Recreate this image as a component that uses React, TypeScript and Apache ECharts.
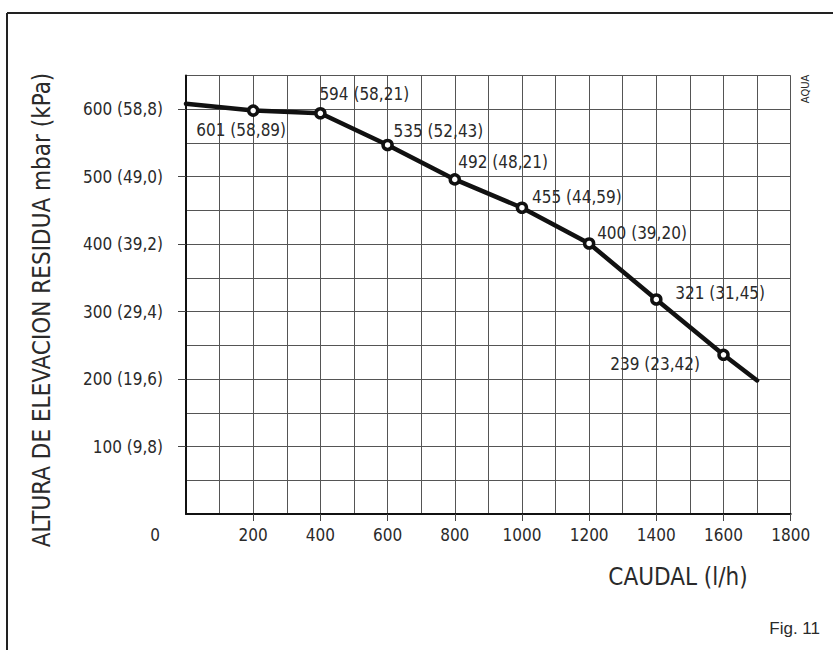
import React, { useEffect, useRef } from "react";
import * as echarts from "echarts";

// Data
const flow = [0, 200, 400, 600, 800, 1000, 1200, 1400, 1600, 1700];
const pressure = [608, 598, 594, 547, 496, 454, 401, 318, 236, 198];
const pointLabels = [
  "",
  "601 (58,89)",
  "594 (58,21)",
  "535 (52,43)",
  "492 (48,21)",
  "455 (44,59)",
  "400 (39,20)",
  "321 (31,45)",
  "239 (23,42)",
  "",
];
const yTickValues = [100, 200, 300, 400, 500, 600];
const yTickTexts = ["100 (9,8)", "200 (19,6)", "300 (29,4)", "400 (39,2)", "500 (49,0)", "600 (58,8)"];
const xTickValues = [200, 400, 600, 800, 1000, 1200, 1400, 1600, 1800];
const yTitle = "ALTURA DE ELEVACION RESIDUA mbar (kPa)";
const xTitle = "CAUDAL (l/h)";
const figTitle = "Fig. 11";
const brandText = "AQUA";
const originText = "0";

// Label placement (style only): [align, dx, dy]
const labelPlacement: [string, number, number][] = [
  ["center", 0, 0],
  ["center", -12, 19],
  ["left", -1, -19],
  ["left", 6, -14],
  ["left", 3.5, -17.5],
  ["left", 10, -10.5],
  ["left", 8, -10],
  ["left", 19, -6],
  ["right", -23.5, 9],
  ["center", 0, 0],
];

const FONT = "'DejaVu Sans Condensed', 'Liberation Sans Narrow', 'DejaVu Sans', sans-serif";
const TEXT = "#2a2a2a";
const GRIDC = "#555";

export default function App() {
  const ref = useRef<HTMLDivElement>(null);
  useEffect(() => {
    if (!ref.current) return;
    const chart = echarts.init(ref.current, null, { renderer: "svg" });
    const data = flow.map((x, i) => {
      const [align, dx, dy] = labelPlacement[i];
      return {
        value: [x, pressure[i]],
        symbol: pointLabels[i] ? "circle" : "none",
        label: {
          show: !!pointLabels[i],
          formatter: pointLabels[i],
          position: "inside",
          align,
          verticalAlign: "middle",
          offset: [dx, dy],
        },
      };
    });
    const hiddenAxisBase = {
      type: "value",
      axisLine: { show: false },
      axisTick: { show: false },
      axisLabel: { show: false },
      splitLine: { show: true, lineStyle: { color: GRIDC, width: 1 } },
      z: 0,
    };
    chart.setOption({
      animation: false,
      backgroundColor: "#fff",
      grid: { left: 186, top: 75.5, width: 604.7, height: 438.5, containLabel: false },
      xAxis: [
        {
          type: "value",
          min: 0,
          max: 1800,
          interval: 100,
          axisLine: { show: true, onZero: false, lineStyle: { color: "#111", width: 2 } },
          axisTick: { show: true, length: 7, customValues: xTickValues, lineStyle: { color: "#444", width: 1 } },
          axisLabel: {
            show: true,
            customValues: xTickValues,
            margin: 12.5,
            fontFamily: FONT,
            fontSize: 17,
            color: TEXT,
            formatter: (v: number) => String(v),
          },
          splitLine: { show: false },
          z: 3,
        },
        { ...hiddenAxisBase, min: 0, max: 1800, interval: 100, position: "bottom" },
      ],
      yAxis: [
        {
          type: "value",
          min: 0,
          max: 650,
          interval: 50,
          axisLine: { show: true, onZero: false, lineStyle: { color: "#111", width: 2 } },
          axisTick: { show: true, length: 8, customValues: yTickValues, lineStyle: { color: "#444", width: 1 } },
          axisLabel: {
            show: true,
            customValues: yTickValues,
            margin: 23,
            fontFamily: FONT,
            fontSize: 17,
            color: TEXT,
            formatter: (v: number) => {
              const i = yTickValues.indexOf(v);
              return i >= 0 ? yTickTexts[i] : "";
            },
          },
          splitLine: { show: false },
          z: 3,
        },
        { ...hiddenAxisBase, min: 0, max: 650, interval: 50, position: "left" },
      ],
      series: [
        {
          type: "line",
          data,
          symbolSize: 9,
          lineStyle: { color: "#111", width: 4.5, join: "round", cap: "round" },
          itemStyle: { color: "#fff", borderColor: "#111", borderWidth: 3.5 },
          label: { fontFamily: FONT, fontSize: 17, color: TEXT },
          emphasis: { disabled: true },
          z: 5,
        },
      ],
      graphic: [
        { type: "line", shape: { x1: 7, y1: 13, x2: 833, y2: 13 }, style: { stroke: "#222", lineWidth: 2 } },
        { type: "line", shape: { x1: 7, y1: 13, x2: 7, y2: 650 }, style: { stroke: "#222", lineWidth: 2 } },
        {
          type: "text",
          x: 42,
          y: 310,
          rotation: Math.PI / 2,
          style: { text: yTitle, fontFamily: FONT, fontSize: 24, fill: TEXT, align: "center", verticalAlign: "middle" },
        },
        {
          type: "text",
          x: 678,
          y: 577,
          style: { text: xTitle, fontFamily: FONT, fontSize: 24, fill: TEXT, align: "center", verticalAlign: "middle" },
        },
        {
          type: "text",
          x: 155,
          y: 535,
          style: { text: originText, fontFamily: FONT, fontSize: 17, fill: TEXT, align: "center", verticalAlign: "middle" },
        },
        {
          type: "text",
          x: 820,
          y: 628,
          style: { text: figTitle, fontFamily: "'Liberation Sans', Arial, sans-serif", fontSize: 17, fill: TEXT, align: "right", verticalAlign: "middle" },
        },
        {
          type: "text",
          x: 805,
          y: 89,
          rotation: Math.PI / 2,
          style: { text: brandText, fontFamily: FONT, fontSize: 11, fill: TEXT, align: "center", verticalAlign: "middle" },
        },
      ],
    });
    return () => chart.dispose();
  }, []);
  return (
    <div
      ref={ref}
      style={{ position: "absolute", left: 0, top: 0, width: 833, height: 650, background: "#fff" }}
    />
  );
}
